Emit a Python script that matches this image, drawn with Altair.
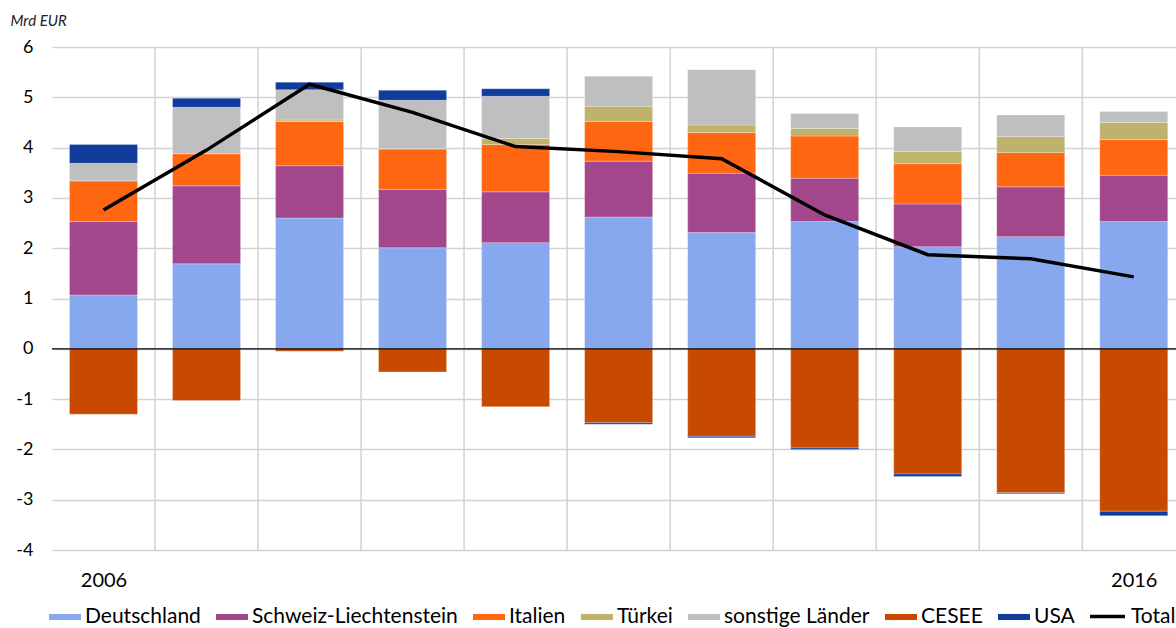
import altair as alt
import pandas as pd

# Jahre und Regionen (Mrd EUR)
years = list(range(2006, 2017))
series = ["Deutschland", "Schweiz-Liechtenstein", "Italien", "Türkei",
          "sonstige Länder", "CESEE", "USA"]
colors = ["#87a7ef", "#a2478b", "#ff6611", "#bfb26a", "#bfbfbf", "#c84a00", "#113c9b"]

deutschland = [1.07, 1.69, 2.60, 2.01, 2.11, 2.62, 2.31, 2.53, 2.03, 2.23, 2.53]
schweiz = [1.46, 1.55, 1.04, 1.16, 1.01, 1.11, 1.18, 0.86, 0.85, 0.99, 0.92]
italien = [0.81, 0.64, 0.88, 0.80, 0.94, 0.79, 0.81, 0.84, 0.80, 0.68, 0.71]
tuerkei = [0.00, 0.00, 0.03, 0.01, 0.12, 0.30, 0.15, 0.15, 0.24, 0.32, 0.34]
sonstige = [0.35, 0.92, 0.60, 0.96, 0.84, 0.60, 1.10, 0.30, 0.49, 0.43, 0.22]
cesee = [-1.30, -1.03, -0.05, -0.46, -1.15, -1.47, -1.74, -1.97, -2.49, -2.86, -3.23]
usa = [0.37, 0.18, 0.15, 0.20, 0.15, -0.03, -0.03, -0.03, -0.05, -0.02, -0.09]
total = [2.76, 3.95, 5.26, 4.70, 4.02, 3.92, 3.78, 2.66, 1.87, 1.79, 1.43]

values = [deutschland, schweiz, italien, tuerkei, sonstige, cesee, usa]

rows = []
for rank, (name, vals) in enumerate(zip(series, values)):
    for yr, v in zip(years, vals):
        rows.append({"Jahr": yr, "Region": name, "Wert": v, "Rang": rank})
bars_df = pd.DataFrame(rows)
total_df = pd.DataFrame({"Jahr": years, "Total": total, "Serie": ["Total"] * len(years)})
grid_df = pd.DataFrame({"Jahr": years[:-1]})
zero_df = pd.DataFrame({"Null": [0]})

FONT = "Lato"

# the last year's column runs slightly past the right edge of the plot
xscale = alt.Scale(domain=[2005.5, 2016.41], nice=False, zero=False, padding=0)
xaxis = alt.Axis(values=[2006, 2016], format="d", title=None, grid=False,
                 domain=False, ticks=False, labelFontSize=20, labelPadding=20,
                 labelColor="black", labelFont=FONT)
yscale = alt.Scale(domain=[-4, 6], nice=False)
yaxis = alt.Axis(values=list(range(-4, 7)), labelExpr="'' + datum.value",
                 title="Mrd EUR", grid=True,
                 gridColor="#d2d2d2", gridWidth=1.5, domain=False, ticks=False,
                 labelFontSize=18, labelPadding=19, labelColor="black", labelFont=FONT,
                 titleAngle=0, titleAlign="left", titleBaseline="alphabetic",
                 titleX=-42, titleY=-22, titleFontSize=15, titleFontStyle="italic",
                 titleFontWeight="normal", titleFont=FONT, titleColor="#222222")

# vertical grid lines between the years
vgrid = (
    alt.Chart(grid_df)
    .transform_calculate(Grenze="datum.Jahr + 0.5")
    .mark_rule(color="#d2d2d2", strokeWidth=1.5)
    .encode(x=alt.X("Grenze:Q", scale=xscale, axis=xaxis))
)

bars = (
    alt.Chart(bars_df)
    .mark_bar(size=68, orient="vertical", stroke="white", strokeWidth=0.5, strokeOpacity=0.5)
    .encode(
        x=alt.X("Jahr:Q", scale=xscale, axis=xaxis),
        y=alt.Y("Wert:Q", stack="zero", scale=yscale, axis=yaxis),
        color=alt.Color(
            "Region:N",
            scale=alt.Scale(domain=series, range=colors),
            legend=alt.Legend(
                orient="none", legendX=-3, legendY=554, direction="horizontal",
                title=None, symbolType="M-1,-0.19H1V0.19H-1Z", symbolSize=1024,
                symbolStrokeWidth=0, symbolOpacity=1, labelFont=FONT, labelFontSize=21,
                labelColor="black", labelLimit=400, columnPadding=15, labelOffset=4,
                padding=0, rowPadding=0,
            ),
        ),
        order=alt.Order("Rang:Q", sort="ascending"),
    )
)

zero = (
    alt.Chart(zero_df)
    .mark_rule(color="black", strokeWidth=1.2)
    .encode(y=alt.Y("Null:Q", scale=yscale, axis=yaxis))
)

line = (
    alt.Chart(total_df)
    .mark_line(strokeWidth=3.5, strokeJoin="miter")
    .encode(
        x=alt.X("Jahr:Q", scale=xscale, axis=xaxis),
        y=alt.Y("Total:Q", scale=yscale, axis=yaxis),
        stroke=alt.Stroke(
            "Serie:N",
            scale=alt.Scale(domain=["Total"], range=["black"]),
            legend=alt.Legend(
                orient="none", legendX=1036, legendY=550, title=None,
                symbolType="stroke", symbolSize=1225, symbolStrokeWidth=3.5,
                labelFont=FONT, labelFontSize=21, labelColor="black",
                labelOffset=4, padding=0,
            ),
        ),
    )
)

chart = (
    alt.layer(vgrid, bars, zero, line)
    .properties(
        width=1124,
        height=503,
        autosize=alt.AutoSizeParams(type="none"),
        padding={"left": 52, "top": 47, "right": 0, "bottom": 78},
    )
    .configure(font=FONT)
    .configure_view(stroke=None)
)

chart.save("out.html", embed_options={"renderer": "svg", "actions": False})
